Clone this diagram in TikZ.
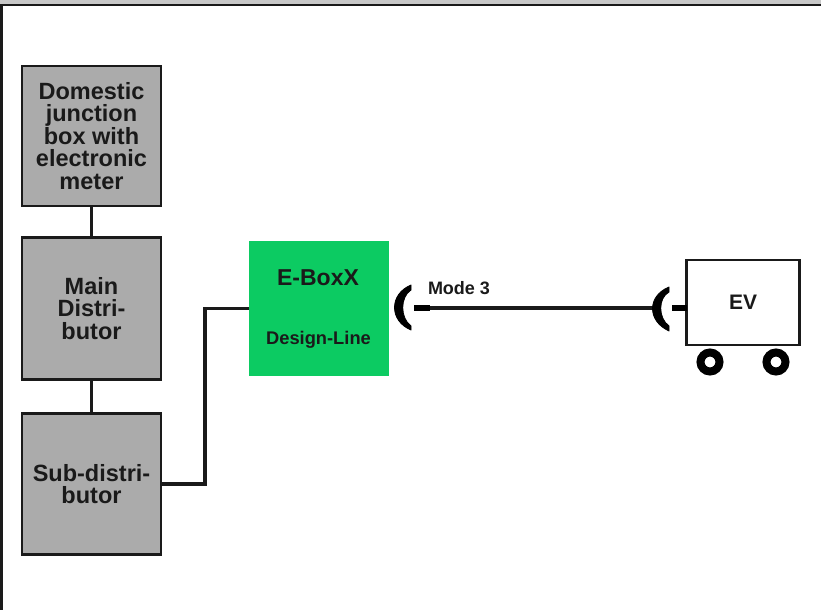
\documentclass[tikz,border=0pt]{standalone}
\usepackage{fontspec}
\setmainfont{Liberation Sans}
\definecolor{boxgray}{HTML}{ABABAB}
\definecolor{boxgreen}{HTML}{0CCB62}
\definecolor{ink}{HTML}{1A1A1A}
\definecolor{band}{HTML}{C8C8C8}
\tikzset{
  x=1pt,y=-1pt,
  distbox/.style={draw=ink,line width=2.8pt,fill=boxgray,minimum width=139pt,minimum height=140pt,inner sep=0pt,outer sep=0pt,align=center,text=ink,font=\fontsize{23.5}{22.5}\selectfont\bfseries},
  greenbox/.style={fill=boxgreen,minimum width=140pt,minimum height=135pt,inner sep=0pt,outer sep=0pt},
  evbox/.style={draw=ink,line width=2.4pt,fill=white,minimum width=113pt,minimum height=85pt,inner sep=0pt,outer sep=0pt,text=ink,font=\fontsize{21}{24}\selectfont\bfseries},
  wire/.style={draw=ink,line width=3.2pt},
  plugarc/.style={fill=black,draw=black,line width=0.8pt,line join=round},
  stub/.style={draw=black,line width=6pt},
  wheel/.style={circle,draw=black,line width=8pt,fill=white,minimum size=19pt,inner sep=0pt,outer sep=0pt},
  lbl/.style={inner sep=0pt,text=ink,font=\bfseries}
}
\begin{document}
\begin{tikzpicture}
\useasboundingbox (0,0) rectangle (821,610);
\fill[white] (0,0) rectangle (821,610);
\fill[band] (0,0) rectangle (821,4);
\fill[ink] (0,4) rectangle (821,6.5);
\fill[ink] (0,4) rectangle (2.5,610);

\node[distbox] (dom) at (91.5,136) {Domestic\\junction\\box with\\electronic\\meter};
\node[distbox,minimum height=142pt] (main) at (91.5,308.5) {Main\\Distri-\\butor};
\node[distbox,minimum height=141pt] (sub) at (91.5,484) {Sub-distri-\\butor};
\node[greenbox] (ebox) at (319,308.5) {};
\node[lbl,font=\fontsize{23}{24}\selectfont\bfseries] (eboxt) at (318,278) {E-BoxX};
\node[lbl,font=\fontsize{18.3}{20}\selectfont\bfseries] (eboxd) at (318.5,340) {Design-Line};
\node[evbox] (ev) at (743,302.5) {EV};
\node[wheel] (w1) at (710,362) {};
\node[wheel] (w2) at (776,362) {};
\node[lbl,font=\fontsize{18}{20}\selectfont\bfseries] (mode) at (459,288) {Mode 3};

\coordinate (pa) at (414,308);
\coordinate (pb) at (430,308);
\coordinate (qa) at (656,308);
\coordinate (qb) at (672,308);

\draw[wire] (dom.south) -- (main.north);
\draw[wire] (main.south) -- (sub.north);
\draw[wire] (sub.east) -- ++(44,0) |- (ebox.west);
\draw[wire] (pb) -- (qa);
\draw[stub] (pa) -- (pb);
\draw[stub] (qb) -- (ev.west |- qb);
\path[plugarc] (411,285) .. controls (389,294) and (389,321) .. (411,330)
  -- (411,326) .. controls (400,318) and (400,297) .. (411,290) -- cycle;
\path[plugarc] (669,287) .. controls (647,296) and (647,321) .. (669,331)
  -- (669,326) .. controls (658,318) and (658,298) .. (669,292) -- cycle;
\end{tikzpicture}
\end{document}
